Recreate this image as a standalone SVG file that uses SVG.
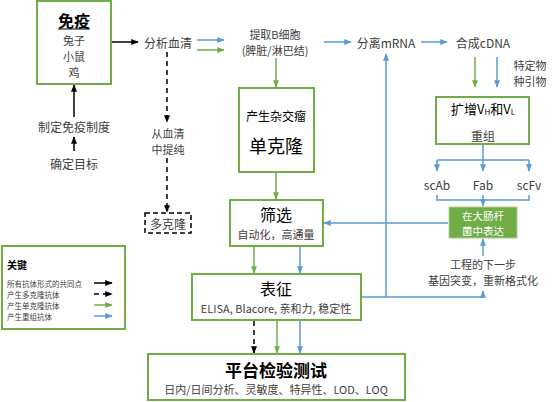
<svg xmlns="http://www.w3.org/2000/svg" width="554" height="402" viewBox="0 0 554 402">
<defs>
<style>
text{font-family:"Noto Sans CJK SC","Noto Sans",sans-serif;fill:#404040;text-anchor:middle;dominant-baseline:central}
.box{fill:#fff;stroke:#70ad47;stroke-width:2}
.t12{font-size:12px}
.t11{font-size:11px}
.big{font-size:16px;fill:#000}
.k{stroke:#000;stroke-width:1.5;fill:none}
.kd{stroke:#000;stroke-width:1.5;fill:none;stroke-dasharray:5,4}
.g{stroke:#70ad47;stroke-width:1.5;fill:none}
.b{stroke:#5b9bd5;stroke-width:1.5;fill:none}
.leg{font-size:7.5px;text-anchor:start}
</style>
<marker id="ak" viewBox="0 0 10 10" refX="9" refY="5" markerWidth="5" markerHeight="5" orient="auto"><path d="M0,1 L10,5 L0,9 z" fill="#000"/></marker>
<marker id="ag" viewBox="0 0 10 10" refX="9" refY="5" markerWidth="5" markerHeight="5" orient="auto"><path d="M0,1 L10,5 L0,9 z" fill="#70ad47"/></marker>
<marker id="ab" viewBox="0 0 10 10" refX="9" refY="5" markerWidth="5" markerHeight="5" orient="auto"><path d="M0,1 L10,5 L0,9 z" fill="#5b9bd5"/></marker>
</defs>
<rect width="554" height="402" fill="#fff"/>

<g id="connectors">
<line class="k" x1="74" y1="151" x2="74" y2="137" marker-end="url(#ak)"/>
<line class="k" x1="74" y1="117" x2="74" y2="85" marker-end="url(#ak)"/>
<line class="k" x1="112" y1="42" x2="138" y2="42" marker-end="url(#ak)"/>
<line class="kd" x1="167" y1="52" x2="167" y2="122" marker-end="url(#ak)"/>
<line class="kd" x1="167" y1="158" x2="167" y2="212" marker-end="url(#ak)"/>
<line class="b" x1="197" y1="40" x2="224" y2="40" marker-end="url(#ab)"/>
<line class="g" x1="197" y1="50" x2="224" y2="50" marker-end="url(#ag)"/>
<line class="g" x1="276" y1="58" x2="276" y2="87" marker-end="url(#ag)"/>
<line class="b" x1="324" y1="42" x2="351" y2="42" marker-end="url(#ab)"/>
<line class="b" x1="421" y1="42" x2="447" y2="42" marker-end="url(#ab)"/>
<line class="g" x1="475" y1="57" x2="475" y2="87" marker-end="url(#ag)"/>
<line class="b" x1="497" y1="57" x2="497" y2="87" marker-end="url(#ab)"/>
<line class="g" x1="276" y1="173" x2="276" y2="199" marker-end="url(#ag)"/>
<line class="b" x1="448" y1="223" x2="324" y2="223" marker-end="url(#ab)"/>
<line class="g" x1="254" y1="247" x2="254" y2="273" marker-end="url(#ag)"/>
<line class="b" x1="300" y1="247" x2="300" y2="273" marker-end="url(#ab)"/>
<line class="kd" x1="254" y1="321" x2="254" y2="353" marker-end="url(#ak)"/>
<line class="g" x1="277" y1="321" x2="277" y2="353" marker-end="url(#ag)"/>
<line class="b" x1="300" y1="321" x2="300" y2="353" marker-end="url(#ab)"/>
<path class="b" d="M362,297 H483 V291" marker-end="url(#ab)"/>
<line class="b" x1="386" y1="297" x2="386" y2="54" marker-end="url(#ab)"/>
<path class="b" d="M483,145 V160 M437,160 H529"/>
<line class="b" x1="437" y1="160" x2="437" y2="171" marker-end="url(#ab)"/>
<line class="b" x1="483" y1="160" x2="483" y2="171" marker-end="url(#ab)"/>
<line class="b" x1="529" y1="160" x2="529" y2="171" marker-end="url(#ab)"/>
<path class="b" d="M437,195 V200 H529 V195 M483,195 V200"/>
<line class="b" x1="483" y1="200" x2="483" y2="206" marker-end="url(#ab)"/>
<line class="b" x1="483" y1="256" x2="483" y2="239" marker-end="url(#ab)"/>
</g>

<g id="immune">
<rect class="box" x="37" y="1" width="74" height="83"/>
<text x="74" y="20" style="font-size:16px;font-weight:bold;fill:#000">免疫</text>
<line x1="58" y1="29" x2="90" y2="29" stroke="#000" stroke-width="1"/>
<text class="t11" x="74" y="40">兔子</text>
<text class="t11" x="74" y="56">小鼠</text>
<text class="t11" x="74" y="72">鸡</text>
</g>
<g id="regime"><text class="t12" x="74" y="126">制定免疫制度</text></g>
<g id="target"><text class="t12" x="74" y="163">确定目标</text></g>
<g id="serum"><text class="t12" x="168" y="42">分析血清</text></g>
<g id="purify"><text class="t11" x="168" y="133">从血清</text><text class="t11" x="168" y="149">中提纯</text></g>
<g id="poly">
<rect x="145" y="213" width="46" height="20" fill="#fff" stroke="#000" stroke-width="1.5" stroke-dasharray="5,3"/>
<text class="t12" x="168" y="223">多克隆</text>
</g>
<g id="bcell"><text class="t11" x="275" y="34">提取B细胞</text><text class="t11" x="275" y="50">(脾脏/淋巴结)</text></g>
<g id="hybridoma">
<rect class="box" x="239" y="88" width="75" height="84"/>
<text x="276" y="115" style="font-size:12px;fill:#000">产生杂交瘤</text>
<text x="276" y="145" style="font-size:18px;fill:#000">单克隆</text>
</g>
<g id="mrna"><text class="t12" x="386" y="42">分离mRNA</text></g>
<g id="cdna"><text class="t12" x="483" y="42">合成cDNA</text></g>
<g id="primers"><text class="t11" x="530" y="65">特定物</text><text class="t11" x="530" y="81">种引物</text></g>
<g id="amplify">
<rect class="box" x="436" y="97" width="93" height="47"/>
<text x="483" y="108" style="font-size:13px;fill:#000">扩增V<tspan dy="3" style="font-size:8px">H</tspan><tspan dy="-3">和V</tspan><tspan dy="3" style="font-size:8px">L</tspan></text>
<text class="t12" x="483" y="135">重组</text>
</g>
<g id="scab"><text class="t12" x="437" y="184">scAb</text></g>
<g id="fab"><text class="t12" x="483" y="184">Fab</text></g>
<g id="scfv"><text class="t12" x="529" y="184">scFv</text></g>
<g id="ecoli">
<rect x="449" y="207" width="68" height="31" fill="#70ad47" stroke="#a9d18e" stroke-width="1"/>
<text x="483" y="215.5" style="font-size:10.5px;fill:#fff">在大肠杆</text>
<text x="483" y="230.5" style="font-size:10.5px;fill:#fff">菌中表达</text>
</g>
<g id="engineering"><text class="t11" x="483" y="264">工程的下一步</text><text class="t11" x="483" y="280">基因突变，重新格式化</text></g>
<g id="screening">
<rect class="box" x="230" y="200" width="93" height="46"/>
<text class="big" x="276" y="214">筛选</text>
<text class="t11" x="276" y="234">自动化，高通量</text>
</g>
<g id="characterization">
<rect class="box" x="192" y="274" width="169" height="46"/>
<text class="big" x="276" y="288">表征</text>
<text class="t11" x="276" y="308">ELISA, Blacore, 亲和力, 稳定性</text>
</g>
<g id="platform">
<rect class="box" x="148" y="354" width="257" height="46"/>
<text x="276" y="369" style="font-size:17px;fill:#000;font-weight:bold">平台检验测试</text>
<text class="t11" x="276" y="389">日内/日间分析、灵敏度、特异性、LOD、LOQ</text>
</g>
<g id="legend">
<rect class="box" x="2" y="246" width="123" height="83"/>
<text x="7" y="264" style="font-size:10px;font-weight:bold;fill:#000;text-anchor:start">关键</text>
<text class="leg" x="7" y="283">所有抗体形式的共同点</text>
<text class="leg" x="7" y="294">产生多克隆抗体</text>
<text class="leg" x="7" y="305">产生单克隆抗体</text>
<text class="leg" x="7" y="316">产生重组抗体</text>
<line class="k" x1="94" y1="283" x2="112" y2="283" marker-end="url(#ak)"/>
<line class="kd" x1="94" y1="294" x2="112" y2="294" marker-end="url(#ak)"/>
<line class="g" x1="94" y1="305" x2="112" y2="305" marker-end="url(#ag)"/>
<line class="b" x1="94" y1="316" x2="112" y2="316" marker-end="url(#ab)"/>
</g>
</svg>
